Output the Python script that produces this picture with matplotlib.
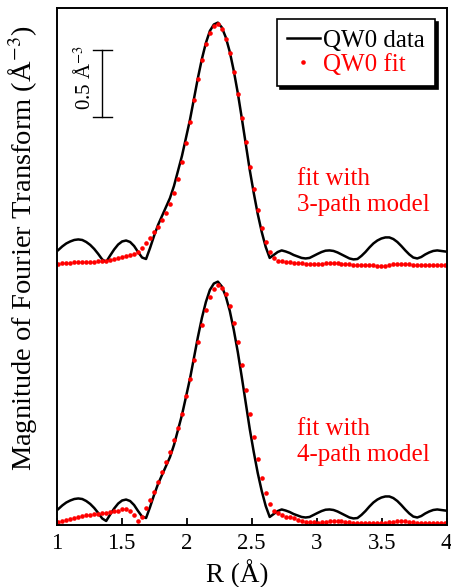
import matplotlib
matplotlib.use("Agg")
import matplotlib.pyplot as plt
import numpy as np

plt.rcParams['font.family'] = ['Liberation Serif', 'DejaVu Serif']
plt.rcParams['mathtext.fontset'] = 'stix'

# R grid of the Fourier transform (standard pi/102.4 spacing), points 33..130
r = np.arange(33, 131) * np.pi / 102.4

# |chi(R)| of the QW0 data, A^-3
qw0_data = [0.119, 0.146, 0.168, 0.183, 0.194, 0.198, 0.194, 0.179, 0.157, 0.127,
            0.090, 0.049, 0.030, 0.078, 0.123, 0.160, 0.183, 0.190, 0.179, 0.149,
            0.104, 0.063, 0.052, 0.134, 0.224, 0.306, 0.373, 0.440, 0.507, 0.597,
            0.709, 0.821, 0.955, 1.090, 1.246, 1.403, 1.545, 1.664, 1.754, 1.802,
            1.816, 1.780, 1.705, 1.597, 1.455, 1.291, 1.104, 0.910, 0.716, 0.545,
            0.388, 0.254, 0.142, 0.060, 0.082, 0.104, 0.116, 0.108, 0.097, 0.082,
            0.071, 0.060, 0.056, 0.060, 0.075, 0.090, 0.104, 0.114, 0.116, 0.112,
            0.101, 0.086, 0.071, 0.056, 0.049, 0.052, 0.075, 0.104, 0.138, 0.168,
            0.190, 0.205, 0.213, 0.213, 0.201, 0.179, 0.149, 0.116, 0.086, 0.063,
            0.056, 0.067, 0.086, 0.101, 0.112, 0.116, 0.112, 0.108]

# fit with 3-path model
fit_3path = [0.015, 0.019, 0.022, 0.022, 0.026, 0.026, 0.030, 0.030, 0.030, 0.030,
             0.034, 0.034, 0.037, 0.045, 0.052, 0.060, 0.067, 0.075, 0.082, 0.090,
             0.107, 0.132, 0.169, 0.211, 0.251, 0.293, 0.341, 0.393, 0.460, 0.543,
             0.647, 0.774, 0.920, 1.077, 1.239, 1.396, 1.537, 1.657, 1.741, 1.793,
             1.804, 1.769, 1.696, 1.587, 1.448, 1.286, 1.107, 0.923, 0.741, 0.572,
             0.418, 0.286, 0.179, 0.107, 0.057, 0.040, 0.037, 0.030, 0.026, 0.022,
             0.022, 0.019, 0.015, 0.013, 0.013, 0.013, 0.015, 0.019, 0.020, 0.020,
             0.020, 0.017, 0.015, 0.011, 0.010, 0.010, 0.010, 0.009, 0.007, 0.005,
             0.002, 0.000, 0.001, 0.006, 0.011, 0.015, 0.015, 0.013, 0.011, 0.009,
             0.006, 0.005, 0.005, 0.006, 0.006, 0.006, 0.005, 0.005]

# fit with 4-path model
fit_4path = [0.020, 0.028, 0.037, 0.047, 0.054, 0.060, 0.066, 0.071, 0.075, 0.080,
             0.084, 0.087, 0.092, 0.097, 0.101, 0.107, 0.116, 0.116, 0.104, 0.078,
             0.030, 0.056, 0.127, 0.187, 0.246, 0.321, 0.396, 0.470, 0.547, 0.632,
             0.724, 0.832, 0.963, 1.090, 1.228, 1.362, 1.493, 1.608, 1.701, 1.761,
             1.789, 1.772, 1.724, 1.634, 1.511, 1.362, 1.194, 1.011, 0.828, 0.653,
             0.496, 0.354, 0.239, 0.153, 0.104, 0.086, 0.072, 0.063, 0.057, 0.049,
             0.039, 0.030, 0.025, 0.021, 0.019, 0.017, 0.019, 0.022, 0.028, 0.031,
             0.032, 0.030, 0.025, 0.020, 0.017, 0.016, 0.015, 0.015, 0.013, 0.013,
             0.013, 0.013, 0.015, 0.019, 0.024, 0.028, 0.030, 0.028, 0.025, 0.021,
             0.018, 0.017, 0.016, 0.016, 0.015, 0.014, 0.013, 0.013]

offset = 1.933      # vertical shift of the upper pair of curves
scale_bar = 0.5     # A^-3

fig = plt.figure(figsize=(4.52, 5.87), dpi=100)
ax = fig.add_axes([56.7 / 452, 62 / 587, 390 / 452, 517 / 587])

data = np.array(qw0_data)
# upper pair
ax.plot(r, data + offset, color='black', lw=1.8, label='QW0 data')
ax.plot(r, np.array(fit_3path) + offset, 'o', color='red', ms=3.3,
        mec='none', label='QW0 fit')
# lower pair
ax.plot(r, data, color='black', lw=1.8)
ax.plot(r, fit_4path, 'o', color='red', ms=3.3, mec='none', clip_on=False)

ax.set_xlim(1, 4)
ax.set_ylim(0, 3.858)
ax.set_xticks([1, 1.5, 2, 2.5, 3, 3.5, 4])
ax.set_xticklabels(['1', '1.5', '2', '2.5', '3', '3.5', '4'])
ax.set_yticks([])
ax.tick_params(axis='x', direction='in', length=5, width=1.3,
               labelsize=16.5, pad=6)
for s in ax.spines.values():
    s.set_linewidth(1.4)

fig.text(237 / 452, 5 / 587, 'R (Å)', ha='center', va='baseline', fontsize=19.5)
fig.text(23 / 452, 1 - 248 / 587, 'Magnitude of Fourier Transform (Å$^{-3}$)',
         rotation=90, ha='center', va='center', fontsize=20.5)

# scale bar
xb = 1.351
yb = 3.045
ax.plot([xb, xb], [yb, yb + scale_bar], color='black', lw=1.0)
ax.plot([xb - 0.073, xb + 0.073], [yb, yb], color='black', lw=1.0)
ax.plot([xb - 0.073, xb + 0.073], [yb + scale_bar, yb + scale_bar],
        color='black', lw=1.0)
ax.text(1.218, 3.336, '0.5 Å$^{-3}$', rotation=90,
        ha='center', va='center', fontsize=15)

ax.text(2.846, 2.343, 'fit with\n3-path model', color='red', fontsize=18,
        ha='left', va='baseline', linespacing=1.22)
ax.text(2.846, 0.478, 'fit with\n4-path model', color='red', fontsize=18,
        ha='left', va='baseline', linespacing=1.22)

leg = ax.legend(loc='upper right', bbox_to_anchor=(0.970, 0.979),
                borderaxespad=0, fontsize=18, handlelength=1.3,
                handletextpad=0.12, borderpad=0.42, labelspacing=0.05,
                fancybox=False, edgecolor='black', framealpha=1,
                labelcolor='linecolor', markerscale=1.0, numpoints=1,
                shadow={'facecolor': 'black', 'edgecolor': 'black', 'alpha': 1})
leg.get_frame().set_linewidth(1.2)

fig.savefig('out.png', dpi=100)
